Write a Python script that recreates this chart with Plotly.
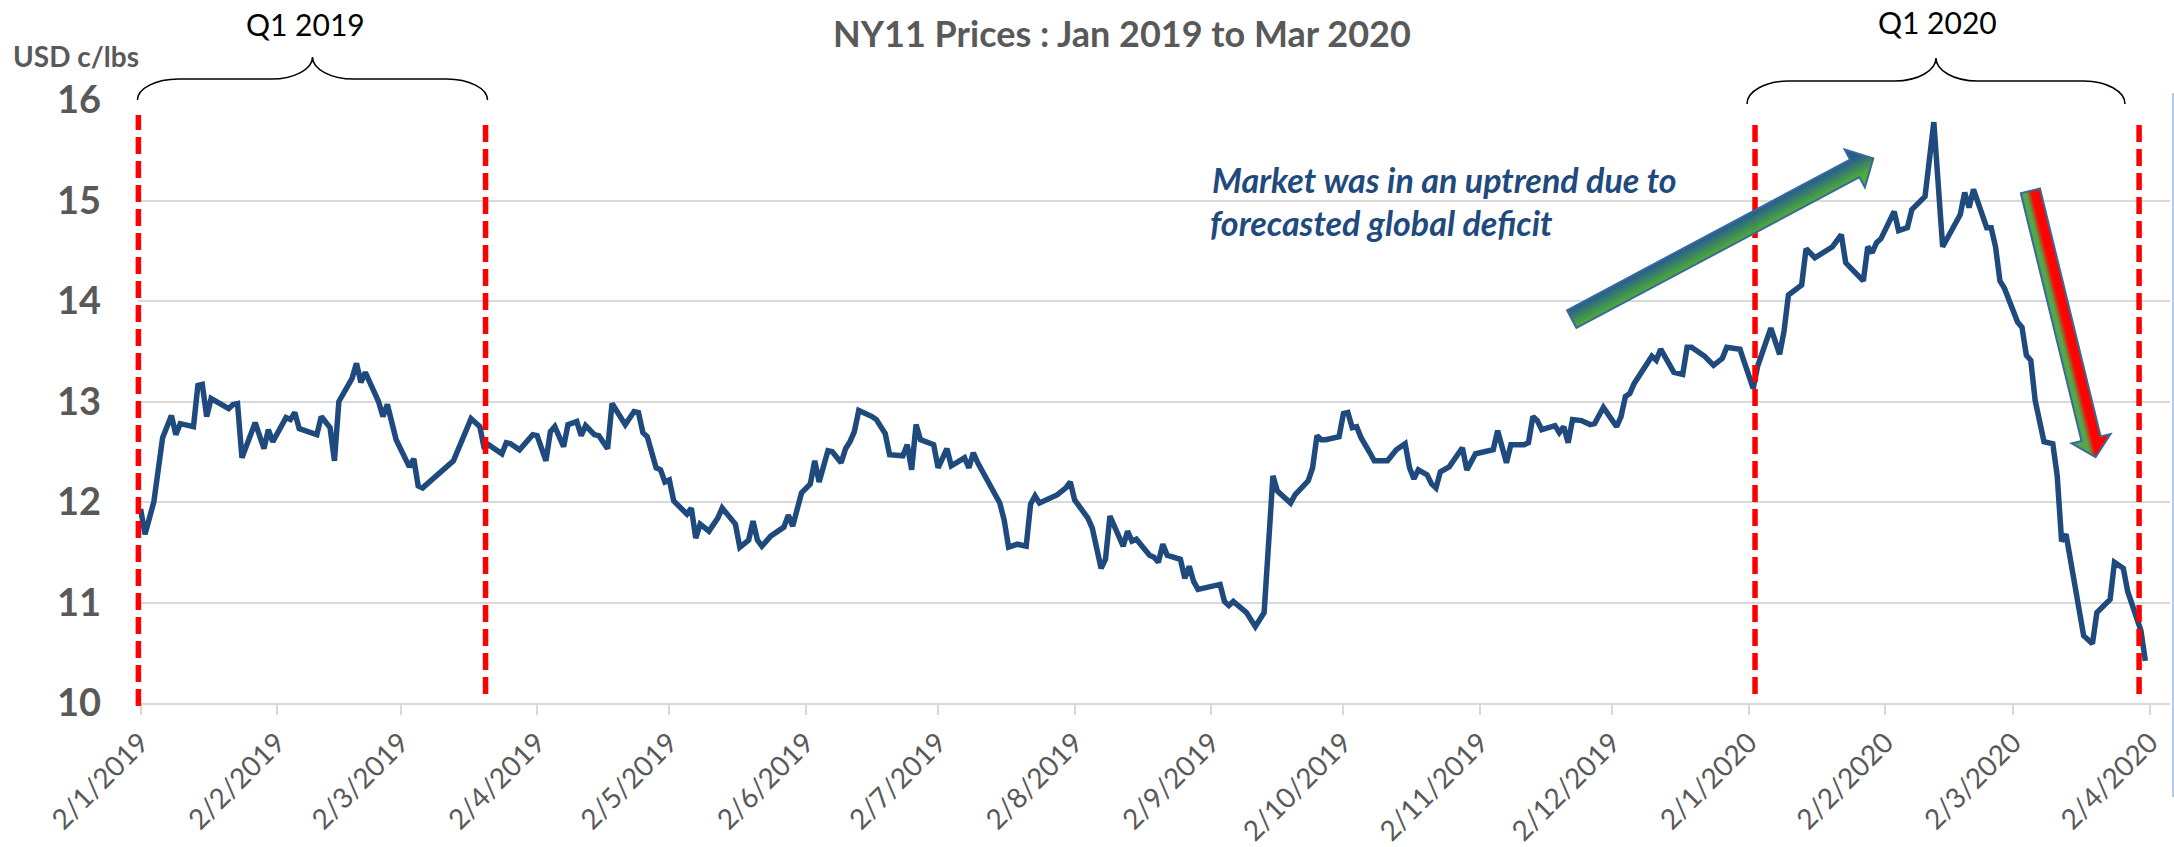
import math
import numpy as np
import pandas as pd
import plotly.graph_objects as go

# ---------------- data ----------------
dates = [
    "2019-01-02", "2019-01-03", "2019-01-05", "2019-01-07", "2019-01-09", "2019-01-10", "2019-01-11",
    "2019-01-14", "2019-01-15", "2019-01-16", "2019-01-17", "2019-01-18", "2019-01-22", "2019-01-23",
    "2019-01-24", "2019-01-25", "2019-01-28", "2019-01-30", "2019-01-31", "2019-02-01", "2019-02-04",
    "2019-02-05", "2019-02-06", "2019-02-07", "2019-02-11", "2019-02-12", "2019-02-14", "2019-02-15",
    "2019-02-16", "2019-02-19", "2019-02-20", "2019-02-21", "2019-02-22", "2019-02-25", "2019-02-26",
    "2019-02-27", "2019-03-01", "2019-03-04", "2019-03-05", "2019-03-06", "2019-03-07", "2019-03-13",
    "2019-03-14", "2019-03-18", "2019-03-20", "2019-03-21", "2019-03-22", "2019-03-25", "2019-03-26",
    "2019-03-27", "2019-03-29", "2019-04-01", "2019-04-02", "2019-04-04", "2019-04-05", "2019-04-06",
    "2019-04-08", "2019-04-09", "2019-04-11", "2019-04-12", "2019-04-13", "2019-04-15", "2019-04-16",
    "2019-04-18", "2019-04-19", "2019-04-22", "2019-04-24", "2019-04-25", "2019-04-26", "2019-04-27",
    "2019-04-28", "2019-04-29", "2019-04-30", "2019-05-01", "2019-05-02", "2019-05-03", "2019-05-06",
    "2019-05-07", "2019-05-08", "2019-05-09", "2019-05-11", "2019-05-13", "2019-05-14", "2019-05-16",
    "2019-05-17", "2019-05-18", "2019-05-20", "2019-05-21", "2019-05-22", "2019-05-23", "2019-05-25",
    "2019-05-28", "2019-05-29", "2019-05-30", "2019-06-01", "2019-06-03", "2019-06-04", "2019-06-05",
    "2019-06-07", "2019-06-08", "2019-06-10", "2019-06-11", "2019-06-12", "2019-06-13", "2019-06-14",
    "2019-06-17", "2019-06-18", "2019-06-19", "2019-06-20", "2019-06-21", "2019-06-24", "2019-06-25",
    "2019-06-26", "2019-06-27", "2019-06-28", "2019-07-01", "2019-07-02", "2019-07-04", "2019-07-05",
    "2019-07-08", "2019-07-09", "2019-07-10", "2019-07-11", "2019-07-16", "2019-07-17", "2019-07-18",
    "2019-07-20", "2019-07-22", "2019-07-23", "2019-07-24", "2019-07-25", "2019-07-26", "2019-07-29",
    "2019-07-31", "2019-08-01", "2019-08-02", "2019-08-05", "2019-08-06", "2019-08-08", "2019-08-09",
    "2019-08-10", "2019-08-13", "2019-08-14", "2019-08-15", "2019-08-16", "2019-08-19", "2019-08-20",
    "2019-08-21", "2019-08-22", "2019-08-23", "2019-08-26", "2019-08-27", "2019-08-28", "2019-08-29",
    "2019-08-30", "2019-09-04", "2019-09-05", "2019-09-06", "2019-09-07", "2019-09-10", "2019-09-11",
    "2019-09-12", "2019-09-14", "2019-09-16", "2019-09-17", "2019-09-18", "2019-09-20", "2019-09-21",
    "2019-09-24", "2019-09-25", "2019-09-26", "2019-09-27", "2019-09-28", "2019-10-01", "2019-10-02",
    "2019-10-03", "2019-10-04", "2019-10-05", "2019-10-06", "2019-10-08", "2019-10-09", "2019-10-12",
    "2019-10-14", "2019-10-16", "2019-10-17", "2019-10-18", "2019-10-19", "2019-10-21", "2019-10-22",
    "2019-10-23", "2019-10-24", "2019-10-26", "2019-10-29", "2019-10-30", "2019-11-01", "2019-11-02",
    "2019-11-05", "2019-11-06", "2019-11-08", "2019-11-09", "2019-11-12", "2019-11-13", "2019-11-14",
    "2019-11-15", "2019-11-16", "2019-11-19", "2019-11-20", "2019-11-21", "2019-11-22", "2019-11-23",
    "2019-11-25", "2019-11-27", "2019-11-28", "2019-11-30", "2019-12-03", "2019-12-04", "2019-12-05",
    "2019-12-06", "2019-12-07", "2019-12-11", "2019-12-12", "2019-12-13", "2019-12-16", "2019-12-18",
    "2019-12-19", "2019-12-20", "2019-12-23", "2019-12-25", "2019-12-27", "2019-12-28", "2019-12-31",
    "2020-01-01", "2020-01-03", "2020-01-04", "2020-01-07", "2020-01-09", "2020-01-10", "2020-01-11",
    "2020-01-14", "2020-01-15", "2020-01-17", "2020-01-21", "2020-01-23", "2020-01-24", "2020-01-28",
    "2020-01-29", "2020-01-30", "2020-01-31", "2020-02-01", "2020-02-04", "2020-02-05", "2020-02-07",
    "2020-02-08", "2020-02-11", "2020-02-13", "2020-02-15", "2020-02-19", "2020-02-20", "2020-02-21",
    "2020-02-22", "2020-02-25", "2020-02-26", "2020-02-27", "2020-02-28", "2020-02-29", "2020-03-03",
    "2020-03-04", "2020-03-05", "2020-03-06", "2020-03-07", "2020-03-09", "2020-03-11", "2020-03-12",
    "2020-03-13", "2020-03-14", "2020-03-18", "2020-03-20", "2020-03-21", "2020-03-24", "2020-03-25",
    "2020-03-27", "2020-03-28", "2020-03-30", "2020-03-31", "2020-04-01",
]
prices = [
    11.93, 11.68, 12.00, 12.64, 12.86, 12.67, 12.78,
    12.75, 13.16, 13.17, 12.85, 13.03, 12.93, 12.97,
    12.98, 12.44, 12.79, 12.53, 12.72, 12.60, 12.84,
    12.82, 12.89, 12.73, 12.67, 12.85, 12.74, 12.41,
    13.00, 13.23, 13.38, 13.19, 13.29, 13.00, 12.85,
    12.97, 12.62, 12.35, 12.43, 12.16, 12.14, 12.37,
    12.41, 12.83, 12.75, 12.53, 12.57, 12.48, 12.59,
    12.58, 12.52, 12.67, 12.66, 12.41, 12.70, 12.75,
    12.55, 12.77, 12.80, 12.66, 12.76, 12.67, 12.66,
    12.53, 12.98, 12.77, 12.90, 12.89, 12.69, 12.65,
    12.49, 12.34, 12.32, 12.20, 12.22, 12.01, 11.88,
    11.94, 11.64, 11.78, 11.71, 11.84, 11.94, 11.84,
    11.78, 11.55, 11.62, 11.81, 11.62, 11.56, 11.66,
    11.75, 11.87, 11.76, 12.09, 12.18, 12.41, 12.20,
    12.51, 12.50, 12.39, 12.53, 12.60, 12.70, 12.91,
    12.85, 12.82, 12.75, 12.68, 12.47, 12.46, 12.57,
    12.32, 12.77, 12.62, 12.57, 12.34, 12.53, 12.36,
    12.44, 12.34, 12.49, 12.39, 11.99, 11.82, 11.55,
    11.58, 11.56, 11.98, 12.06, 11.99, 12.01, 12.07,
    12.14, 12.20, 12.02, 11.84, 11.74, 11.34, 11.43,
    11.86, 11.56, 11.71, 11.61, 11.63, 11.47, 11.45,
    11.40, 11.58, 11.47, 11.43, 11.24, 11.36, 11.21,
    11.13, 11.18, 11.01, 10.97, 11.01, 10.90, 10.82,
    10.76, 10.90, 12.26, 12.11, 12.07, 11.99, 12.07,
    12.21, 12.34, 12.66, 12.62, 12.62, 12.65, 12.88,
    12.89, 12.74, 12.75, 12.64, 12.49, 12.41, 12.41,
    12.52, 12.58, 12.34, 12.23, 12.32, 12.27, 12.18,
    12.14, 12.30, 12.35, 12.54, 12.32, 12.48, 12.49,
    12.52, 12.71, 12.39, 12.57, 12.57, 12.59, 12.85,
    12.81, 12.72, 12.76, 12.69, 12.75, 12.59, 12.82,
    12.81, 12.77, 12.78, 12.94, 12.75, 12.85, 13.05,
    13.08, 13.18, 13.45, 13.41, 13.52, 13.29, 13.27,
    13.54, 13.54, 13.45, 13.36, 13.43, 13.54, 13.52,
    13.39, 13.13, 13.35, 13.73, 13.47, 13.70, 14.06,
    14.16, 14.52, 14.43, 14.54, 14.66, 14.38, 14.20,
    14.54, 14.48, 14.58, 14.62, 14.89, 14.70, 14.73,
    14.91, 15.04, 15.78, 14.54, 14.86, 15.08, 14.93,
    15.11, 14.73, 14.73, 14.54, 14.20, 14.13, 13.79,
    13.74, 13.46, 13.41, 13.01, 12.60, 12.58, 12.26,
    11.61, 11.68, 10.67, 10.59, 10.90, 11.03, 11.40,
    11.34, 11.11, 10.84, 10.72, 10.42,
]

# quarter markers (red dashed lines): date, bottom value, top value
marker_dates = ["2019-01-01 12:00", "2019-03-21 07:00", "2020-01-03 10:00", "2020-03-30 14:00"]
marker_low = [9.97, 10.09, 10.09, 10.09]
marker_high = [15.85, 15.77, 15.77, 15.77]

title_text = "NY11 Prices : Jan 2019 to Mar 2020"
y_unit_text = "USD c/lbs"
quarter_labels = ["Q1 2019", "Q1 2020"]
note_lines = ["Market was in an uptrend due to", "forecasted global deficit"]

x_range = ["2019-01-01 09:50", "2020-04-06 14:24"]
y_range = [10, 16]

# ---------------- layout geometry ----------------
W_FIG, H_FIG = 2174, 847
PL, PR, PT, PB = 138, 2170, 100, 703
FONT = "Lato, 'Open Sans', sans-serif"
GRAY = "#595959"
NAVY = "#1F4A7E"

X0, X1 = pd.Timestamp(x_range[0]), pd.Timestamp(x_range[1])


def date_to_paper(d):
    return (pd.Timestamp(d) - X0) / (X1 - X0)


def val_to_paper(v):
    return (v - y_range[0]) / (y_range[1] - y_range[0])


def to_paper(px, py):
    return (px - PL) / (PR - PL), (PB - py) / (PB - PT)


def fmt(pt):
    return f"{pt[0]:.5f},{pt[1]:.5f}"


def hexcol(rgb):
    return "#%02x%02x%02x" % tuple(int(round(c)) for c in rgb)


def interp_stops(stops, s):
    s = max(stops[0][0], min(stops[-1][0], s))
    for (s0, c0), (s1, c1) in zip(stops[:-1], stops[1:]):
        if s0 <= s <= s1:
            t = 0 if s1 == s0 else (s - s0) / (s1 - s0)
            return hexcol([a + (b - a) * t for a, b in zip(c0, c1)])
    return hexcol(stops[-1][1])


def arrow_shapes(tail, tip, W, H, Lh, stops, n_in=10, n_out=4):
    tx, ty = tail
    dx, dy = tip[0] - tx, tip[1] - ty
    L = math.hypot(dx, dy)
    ux, uy = dx / L, dy / L
    nx, ny = uy, -ux

    def P(u, v):
        return to_paper(tx + u * ux + v * nx, ty + u * uy + v * ny)

    def uend(v):
        return L - Lh * abs(v) / H

    vs = sorted(set(list(np.linspace(-H, -W, n_out + 1)) + list(np.linspace(-W, W, 2 * n_in + 1))
                    + list(np.linspace(W, H, n_out + 1))))
    out = []
    for va, vb in zip(vs[:-1], vs[1:]):
        vm = (va + vb) / 2
        u0 = 0 if abs(vm) <= W else L - Lh
        pts = [P(u0, va), P(uend(va), va), P(uend(vb), vb), P(u0, vb)]
        col = interp_stops(stops, vm / W)
        out.append(dict(type="path", xref="paper", yref="paper",
                        path="M " + " L ".join(fmt(p) for p in pts) + " Z",
                        fillcolor=col, line=dict(color=col, width=0.8), layer="above"))
    outline = [P(0, W), P(L - Lh, W), P(L - Lh, H), P(L, 0), P(L - Lh, -H), P(L - Lh, -W), P(0, -W)]
    out.append(dict(type="path", xref="paper", yref="paper",
                    path="M " + " L ".join(fmt(p) for p in outline) + " Z",
                    line=dict(color="#3A6A9C", width=2), layer="above"))
    return out


def brace_shape(xl, xr, xt, ye, yh, ytip, dx=41, k=0.552):
    d1, d2 = ye - yh, yh - ytip
    P = lambda x, y: fmt(to_paper(x, y))
    path = (f"M {P(xl, ye)} C {P(xl, ye - k * d1)} {P(xl + dx - k * dx, yh)} {P(xl + dx, yh)} "
            f"L {P(xt - dx, yh)} C {P(xt - dx + k * dx, yh)} {P(xt, ytip + k * d2)} {P(xt, ytip)} "
            f"C {P(xt, ytip + k * d2)} {P(xt + dx - k * dx, yh)} {P(xt + dx, yh)} "
            f"L {P(xr - dx, yh)} C {P(xr - dx + k * dx, yh)} {P(xr, ye - k * d1)} {P(xr, ye)}")
    return dict(type="path", xref="paper", yref="paper", path=path,
                line=dict(color="#000000", width=1.5), layer="above")


def text_ann(text, px, py, size, color, xanchor="center", bold=False, italic=False):
    x, y = to_paper(px, py)
    t = text
    if bold:
        t = f"<b>{t}</b>"
    if italic:
        t = f"<i>{t}</i>"
    return dict(text=t, x=x, y=y, xref="paper", yref="paper", xanchor=xanchor, yanchor="middle",
                showarrow=False, font=dict(family=FONT, size=size, color=color))


# ---------------- figure ----------------
fig = go.Figure()
fig.add_trace(go.Scatter(x=dates, y=prices, mode="lines",
                         line=dict(color=NAVY, width=5.5), hoverinfo="skip", showlegend=False))

shapes = []
for d, lo, hi in zip(marker_dates, marker_low, marker_high):
    xp = date_to_paper(d)
    shapes.append(dict(type="line", xref="paper", yref="paper", x0=xp, x1=xp,
                       y0=val_to_paper(lo), y1=val_to_paper(hi),
                       line=dict(color="#FF0000", width=5.5, dash="17px,7px"), layer="above"))

green_stops = [(-1.0, (78, 176, 46)), (1.0, (36, 88, 145))]
red_stops = [(-1.0, (88, 160, 80)), (-0.45, (76, 172, 72)), (0.15, (255, 0, 0)), (1.0, (255, 0, 0))]
shapes += arrow_shapes((1571.7, 319.1), (1873.3, 158.5), 10.0, 21.5, 21.0, green_stops)
shapes += arrow_shapes((2030.4, 190.8), (2095.6, 457.2), 9.85, 20.0, 19.0, red_stops)

shapes.append(brace_shape(137.5, 487.5, 312.5, 100, 79, 57))
shapes.append(brace_shape(1747, 2125, 1936, 104, 81, 58))

bx, by0 = to_paper(2173, 93)
_, by1 = to_paper(2173, 797)
shapes.append(dict(type="line", xref="paper", yref="paper", x0=bx, x1=bx, y0=by0, y1=by1,
                   line=dict(color="#9DBBE0", width=1.5), layer="above"))

annotations = [
    text_ann(title_text, 1122, 33, 36, GRAY, bold=True),
    text_ann(y_unit_text, 11, 56, 28, GRAY, xanchor="left", bold=True),
    text_ann(quarter_labels[0], 305, 24, 30, "#000000"),
    text_ann(quarter_labels[1], 1937, 22, 30, "#000000"),
    text_ann(note_lines[0], 1210, 180, 34, NAVY, xanchor="left", bold=True, italic=True),
    text_ann(note_lines[1], 1208, 223, 34, NAVY, xanchor="left", bold=True, italic=True),
]

fig.update_layout(
    template="none",
    width=W_FIG, height=H_FIG, autosize=False,
    margin=dict(l=PL, r=W_FIG - PR, t=PT, b=H_FIG - PB, pad=0),
    paper_bgcolor="white", plot_bgcolor="white",
    shapes=shapes, annotations=annotations, showlegend=False,
    xaxis=dict(
        type="date", range=x_range, tickmode="linear", tick0="2019-01-02", dtick="M1",
        tickformat="%-d/%-m/%Y", tickangle=-45, automargin=False,
        tickfont=dict(family=FONT, size=28, color=GRAY),
        showgrid=False, zeroline=False,
        showline=True, linecolor="#D9D9D9", linewidth=2,
        ticks="outside", ticklen=10, tickcolor="#D9D9D9", tickwidth=1.5,
    ),
    yaxis=dict(
        range=y_range, tickmode="linear", tick0=10, dtick=1, automargin=False,
        tickfont=dict(family=FONT, size=38, color=GRAY),
        showgrid=True, gridcolor="#D9D9D9", gridwidth=1.5,
        zeroline=False, showline=False, ticks="", ticklabelstandoff=36,
        tickprefix="<b>", ticksuffix="</b>",
    ),
)

fig.write_html("out.html", config={"displayModeBar": False},
               post_script="document.body.style.margin='0';")
